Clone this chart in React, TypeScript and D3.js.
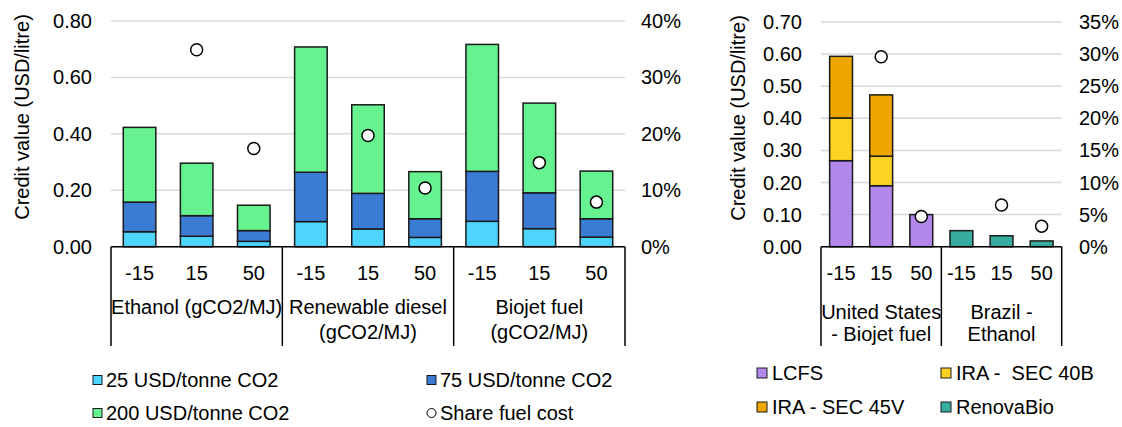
import React from "react";
import * as d3 from "d3";

// ---------- Data (left panel) ----------
const leftTicks = ["-15", "15", "50", "-15", "15", "50", "-15", "15", "50"];
const leftGroups: string[][] = [["Ethanol (gCO2/MJ)"], ["Renewable diesel", "(gCO2/MJ)"], ["Biojet fuel", "(gCO2/MJ)"]];
const credit25 = [0.053, 0.037, 0.019, 0.089, 0.063, 0.033, 0.09, 0.064, 0.034];
const credit75 = [0.105, 0.073, 0.038, 0.175, 0.126, 0.066, 0.177, 0.127, 0.065];
const credit200 = [0.265, 0.186, 0.09, 0.444, 0.314, 0.167, 0.45, 0.318, 0.169];
const shareLeft: (number | null)[] = [null, 0.349, 0.174, null, 0.197, 0.104, null, 0.149, 0.079];
const leftSeriesNames = ["25 USD/tonne CO2", "75 USD/tonne CO2", "200 USD/tonne CO2"];
const leftYTicks = [0, 0.2, 0.4, 0.6, 0.8];
const leftY2Ticks = [0, 0.1, 0.2, 0.3, 0.4];

// ---------- Data (right panel) ----------
const rightTicks = ["-15", "15", "50", "-15", "15", "50"];
const rightGroups: string[][] = [["United States", "- Biojet fuel"], ["Brazil -", "Ethanol"]];
const lcfs = [0.268, 0.19, 0.1, 0, 0, 0];
const sec40b = [0.133, 0.092, 0, 0, 0, 0];
const sec45v = [0.192, 0.191, 0, 0, 0, 0];
const renovabio = [0, 0, 0, 0.05, 0.034, 0.018];
const shareRight: (number | null)[] = [null, 0.296, 0.047, null, 0.065, 0.032];
const rightSeriesNames = ["LCFS", "IRA -  SEC 40B", "IRA - SEC 45V", "RenovaBio"];
const rightYTicks = [0, 0.1, 0.2, 0.3, 0.4, 0.5, 0.6, 0.7];
const rightY2Ticks = [0, 0.05, 0.1, 0.15, 0.2, 0.25, 0.3, 0.35];

const leftColors = ["#4dd4ff", "#3b7bd3", "#66f28e"];
const rightColors = ["#b187ec", "#ffd324", "#efa600", "#36ad9e"];

const FONT = "'Liberation Sans', Arial, sans-serif";
const FS = 20;

type PanelProps = {
  x0: number;
  x1: number;
  yTop: number;
  yBottom: number;
  ticks: string[];
  groups: string[][];
  series: number[][];
  colors: string[];
  share: (number | null)[];
  yMax: number;
  yTicks: number[];
  y2Max: number;
  y2Ticks: number[];
  yLabelRight: number;
  y2LabelLeft: number;
  titleX: number;
  titleY: number;
  groupLineY: number[];
};

function Panel(p: PanelProps) {
  const n = p.ticks.length;
  const idx = d3.range(n).map(String);
  const x = d3.scaleBand<string>().domain(idx).range([p.x0, p.x1]).paddingInner(0.43).paddingOuter(0.215);
  const y = d3.scaleLinear().domain([0, p.yMax]).range([p.yBottom, p.yTop]);
  const y2 = d3.scaleLinear().domain([0, p.y2Max]).range([p.yBottom, p.yTop]);
  const rows = idx.map((k, i) => {
    const r: any = { key: k };
    p.series.forEach((s, j) => (r["s" + j] = s[i]));
    return r;
  });
  const stack = d3.stack<any>().keys(p.series.map((_, j) => "s" + j));
  const stacked = stack(rows);
  const fmt = d3.format(".2f");
  const fmtPct = d3.format(".0%");
  const groupSize = n / p.groups.length;
  const step = (p.x1 - p.x0) / n;
  const bottomLine = 346;
  return (
    <g fontFamily={FONT} fontSize={FS} fill="#000">
      {p.yTicks.map((t) => (
        <line key={"g" + t} x1={p.x0} x2={p.x1} y1={y(t)} y2={y(t)} stroke="#d9d9d9" strokeWidth={1.5} />
      ))}
      {p.yTicks.map((t) => (
        <text key={"yl" + t} x={p.yLabelRight} y={y(t)} dy="0.35em" textAnchor="end">
          {fmt(t)}
        </text>
      ))}
      {p.y2Ticks.map((t) => (
        <text key={"yr" + t} x={p.y2LabelLeft} y={y2(t)} dy="0.35em" textAnchor="start">
          {fmtPct(t)}
        </text>
      ))}
      <text
        transform={`translate(${p.titleX},${p.titleY}) rotate(-90)`}
        textAnchor="middle"
        dy="0.35em"
      >
        Credit value (USD/litre)
      </text>
      {stacked.map((layer, j) =>
        layer.map((d, i) => {
          const v = d[1] - d[0];
          if (v <= 0) return null;
          return (
            <rect
              key={`b${j}-${i}`}
              x={x(String(i))}
              width={x.bandwidth()}
              y={y(d[1])}
              height={y(d[0]) - y(d[1])}
              fill={p.colors[j]}
              stroke="#1a1a1a"
              strokeWidth={1.5}
            />
          );
        })
      )}
      {p.share.map((s, i) =>
        s == null ? null : (
          <circle
            key={"c" + i}
            cx={(x(String(i)) as number) + x.bandwidth() / 2}
            cy={y2(s)}
            r={6}
            fill="#fff"
            stroke="#000"
            strokeWidth={1.5}
          />
        )
      )}
      <line x1={p.x0} x2={p.x1} y1={p.yBottom} y2={p.yBottom} stroke="#000" strokeWidth={1.5} />
      {d3.range(p.groups.length + 1).map((g) => {
        const gx = p.x0 + g * groupSize * step;
        return <line key={"sep" + g} x1={gx} x2={gx} y1={p.yBottom} y2={bottomLine} stroke="#000" strokeWidth={1.5} />;
      })}
      {p.ticks.map((t, i) => (
        <text key={"xt" + i} x={(x(String(i)) as number) + x.bandwidth() / 2} y={273} dy="0.35em" textAnchor="middle">
          {t}
        </text>
      ))}
      {p.groups.map((lines, g) => {
        const cx = p.x0 + (g + 0.5) * groupSize * step;
        return lines.map((ln, k) => (
          <text key={`gl${g}-${k}`} x={cx} y={p.groupLineY[k]} dy="0.35em" textAnchor="middle">
            {ln}
          </text>
        ));
      })}
    </g>
  );
}

export default function App() {
  return (
    <svg
      width={1122}
      height={427}
      style={{ position: "absolute", left: 0, top: 0, background: "#fff" }}
    >
      <rect x={0} y={0} width={1122} height={427} fill="#fff" />
      <Panel
        x0={111}
        x1={625}
        yTop={21}
        yBottom={246.7}
        ticks={leftTicks}
        groups={leftGroups}
        series={[credit25, credit75, credit200]}
        colors={leftColors}
        share={shareLeft}
        yMax={0.8}
        yTicks={leftYTicks}
        y2Max={0.4}
        y2Ticks={leftY2Ticks}
        yLabelRight={92}
        y2LabelLeft={641}
        titleX={22}
        titleY={117}
        groupLineY={[307, 332]}
      />
      <Panel
        x0={821}
        x1={1061.7}
        yTop={22}
        yBottom={246.7}
        ticks={rightTicks}
        groups={rightGroups}
        series={[lcfs, sec40b, sec45v, renovabio]}
        colors={rightColors}
        share={shareRight}
        yMax={0.7}
        yTicks={rightYTicks}
        y2Max={0.35}
        y2Ticks={rightY2Ticks}
        yLabelRight={802}
        y2LabelLeft={1079}
        titleX={738}
        titleY={118}
        groupLineY={[312, 334]}
      />
      <g fontFamily={FONT} fontSize={FS} fill="#000" style={{ whiteSpace: "pre" }}>
        {leftSeriesNames.map((name, i) => {
          const col = i === 1 ? 1 : 0;
          const row = i === 2 ? 1 : 0;
          const sx = col === 0 ? 93 : 427;
          const cy = row === 0 ? 380 : 413;
          return (
            <g key={"ll" + i}>
              <rect x={sx} y={cy - 4.5} width={9} height={9} fill={leftColors[i]} stroke="#1a1a1a" strokeWidth={1} />
              <text x={sx + 13} y={cy} dy="0.35em">{name}</text>
            </g>
          );
        })}
        <circle cx={431.5} cy={413} r={4.5} fill="#fff" stroke="#000" strokeWidth={1} />
        <text x={440} y={413} dy="0.35em">Share fuel cost</text>
        {rightSeriesNames.map((name, i) => {
          const col = i % 2;
          const row = Math.floor(i / 2);
          const sx = col === 0 ? 757 : 941;
          const cy = row === 0 ? 373 : 407;
          return (
            <g key={"rl" + i}>
              <rect x={sx} y={cy - 5} width={10} height={10} fill={rightColors[i]} stroke="#1a1a1a" strokeWidth={1} />
              <text x={sx + 15} y={cy} dy="0.35em" xmlSpace="preserve" style={{ whiteSpace: "pre" }}>{name}</text>
            </g>
          );
        })}
      </g>
    </svg>
  );
}
